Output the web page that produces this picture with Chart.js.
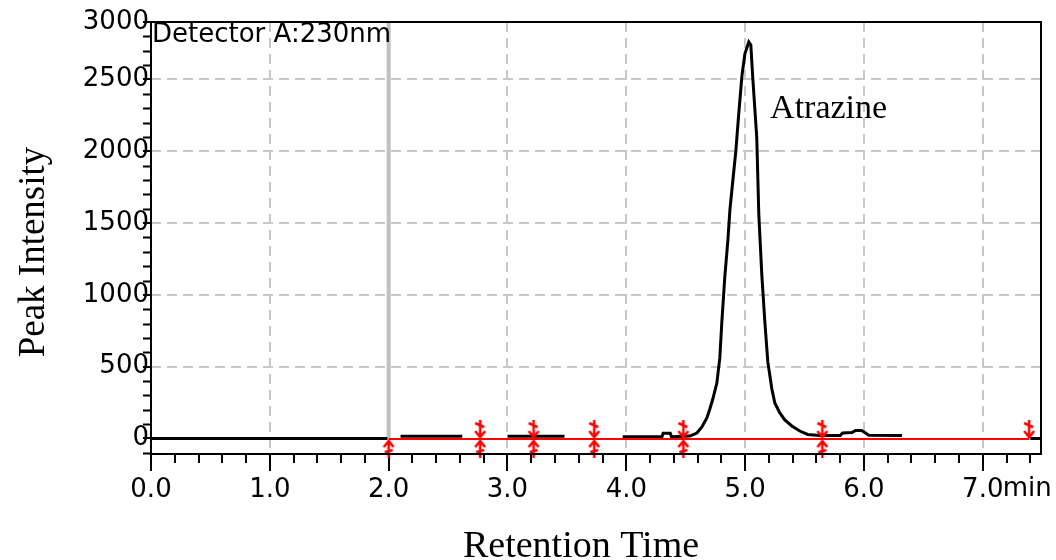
<!DOCTYPE html>
<html>
<head>
<meta charset="utf-8">
<title>Atrazine chromatogram</title>
<script src="https://cdn.jsdelivr.net/npm/chart.js@4.4.0/dist/chart.umd.min.js"></script>
<style>
    html, body { margin: 0; padding: 0; background: #fff; }
    #chart { display: block; }
</style>
</head>
<body>
<canvas id="chart" width="1056" height="560"></canvas>
<script>
// Axis ticks and range
const xTicks = [0, 1, 2, 3, 4, 5, 6, 7];
const yTicks = [0, 500, 1000, 1500, 2000, 2500, 3000];
const xMin = 0, xMax = 7.49;
const yMin = -108, yMax = 2900;

// Detector trace (min / intensity), null breaks the line
const signalTime = [0, 1.99, 2.05, 2.1, 2.62, 2.8, 3.0, 3.48, 3.7, 3.97, 4.30, 4.31, 4.37, 4.38,
    4.535, 4.594, 4.636, 4.678, 4.703, 4.728, 4.762, 4.787, 4.804, 4.829, 4.855, 4.872, 4.897,
    4.922, 4.947, 4.973, 4.998, 5.031, 5.048, 5.065, 5.098, 5.115, 5.141, 5.166, 5.191, 5.225,
    5.250, 5.292, 5.334, 5.393, 5.460, 5.527, 5.628, 5.80, 5.82, 5.90, 5.93, 5.98, 6.01, 6.04,
    6.32, 6.8, 7.40, 7.49];
const signalValue = [0, 0, null, 15, 15, null, 15, 15, null, 12, 12, 36, 36, 12,
    17, 38, 80, 143, 205, 275, 386, 561, 811, 1125, 1382, 1591, 1800,
    2002, 2267, 2524, 2678, 2761, 2740, 2503, 2093, 1563, 1132, 811, 533, 345,
    247, 178, 129, 87, 52, 28, 20, 20, 38, 42, 56, 56, 40, 22,
    20, null, 0, 0];

// Integration baseline and peak start / end marks
const baselineTime = [2.0, 7.39];
const baselineValue = [-4, -4];
const peakStarts = [2.0, 2.77, 3.22, 3.73, 4.48, 5.65];
const peakEnds = [2.77, 3.22, 3.73, 4.48, 5.65, 7.39];
const markLevel = -4;

const solventFront = 2.0;
const peakName = 'Atrazine';
const peakLabelAt = { x: 5.21, y: 2230 };

const RED = '#ff0000';
const GRID = '#c8c8c8';
const SANS = 'DejaVu Sans';

function toPoints(xs, ys) {
    return xs.map((x, i) => ({ x: x, y: ys[i] }));
}

// red arrow used for the peak marks
function arrowMark(dir) {
    const c = document.createElement('canvas');
    c.width = 18;
    c.height = 38;
    const g = c.getContext('2d');
    g.strokeStyle = RED;
    g.lineWidth = 2.5;
    g.beginPath();
    if (dir === 'down') {
        g.moveTo(9, 0); g.lineTo(9, 18);
        g.moveTo(4, 11); g.lineTo(9, 17); g.lineTo(14, 11);
        g.moveTo(4, 3); g.lineTo(13, 7);
    } else {
        g.moveTo(9, 20); g.lineTo(9, 38);
        g.moveTo(4, 27); g.lineTo(9, 21); g.lineTo(14, 27);
        g.moveTo(5, 32); g.lineTo(13, 30);
    }
    g.stroke();
    return c;
}

const decorations = {
    id: 'decorations',
    afterDraw(chart) {
        const { ctx, chartArea: a, scales: { x, y } } = chart;
        ctx.save();

        // minor ticks
        ctx.strokeStyle = '#000';
        ctx.lineWidth = 2;
        ctx.beginPath();
        for (let i = 1; i * 0.2 < xMax; i++) {
            if (i % 5 === 0) continue;
            const px = Math.round(x.getPixelForValue(i * 0.2));
            ctx.moveTo(px, a.bottom);
            ctx.lineTo(px, a.bottom + 9);
        }
        for (let v = -100; v < yMax; v += 100) {
            if (v % 500 === 0) continue;
            const py = Math.round(y.getPixelForValue(v)) + 0.5;
            ctx.moveTo(a.left - 8, py);
            ctx.lineTo(a.left, py);
        }
        ctx.stroke();

        // plot frame
        ctx.strokeRect(a.left, a.top, a.right - a.left, a.bottom - a.top);

        ctx.fillStyle = '#000';
        ctx.textBaseline = 'alphabetic';

        ctx.font = '26px "' + SANS + '"';
        ctx.textAlign = 'left';
        ctx.fillText('Detector A:230nm', a.left + 1, a.top + 20);
        ctx.fillText('min', x.getPixelForValue(7) + 20, 496);

        ctx.font = '34px "Liberation Serif"';
        ctx.fillText(peakName, x.getPixelForValue(peakLabelAt.x), y.getPixelForValue(peakLabelAt.y));

        ctx.font = '38px "Liberation Serif"';
        ctx.textAlign = 'center';
        ctx.fillText('Retention Time', 581, 557);

        ctx.font = '37px "Liberation Serif"';
        ctx.translate(44, 252);
        ctx.rotate(-Math.PI / 2);
        ctx.fillText('Peak Intensity', 0, 0);

        ctx.restore();
    }
};

const ctx = document.getElementById('chart').getContext('2d');
new Chart(ctx, {
    type: 'scatter',
    data: {
        datasets: [
            {
                label: 'Peak end',
                data: peakEnds.map(t => ({ x: t, y: markLevel })),
                pointStyle: arrowMark('down'),
                pointRadius: 6,
                clip: false,
                order: 0
            },
            {
                label: 'Peak start',
                data: peakStarts.map(t => ({ x: t, y: markLevel })),
                pointStyle: arrowMark('up'),
                pointRadius: 6,
                clip: false,
                order: 0
            },
            {
                label: 'Baseline',
                data: toPoints(baselineTime, baselineValue),
                showLine: true,
                borderColor: RED,
                borderWidth: 2,
                pointRadius: 0,
                order: 1
            },
            {
                label: 'Detector A',
                data: toPoints(signalTime, signalValue),
                showLine: true,
                spanGaps: false,
                borderColor: '#000',
                borderWidth: 3,
                pointRadius: 0,
                order: 2
            },
            {
                label: 'Solvent front',
                data: [{ x: solventFront, y: 0 }, { x: solventFront, y: yMax }],
                showLine: true,
                borderColor: '#bfbfbf',
                borderWidth: 4,
                pointRadius: 0,
                order: 3
            }
        ]
    },
    options: {
        responsive: false,
        animation: false,
        devicePixelRatio: 1,
        layout: { padding: { top: 22, right: 15, left: 0, bottom: 0 } },
        plugins: {
            legend: { display: false },
            tooltip: { enabled: false }
        },
        scales: {
            x: {
                type: 'linear',
                min: xMin,
                max: xMax,
                afterBuildTicks: scale => { scale.ticks = xTicks.map(v => ({ value: v })); },
                afterFit: scale => { scale.height = 106; },
                grid: {
                    color: c => (c.tick && c.tick.value > 0) ? GRID : 'rgba(0,0,0,0)',
                    lineWidth: 2,
                    tickColor: '#000',
                    tickLength: 17,
                    tickWidth: 2
                },
                border: { display: false, dash: [10, 6] },
                ticks: {
                    color: '#000',
                    font: { family: SANS, size: 26 },
                    padding: 4,
                    maxRotation: 0,
                    autoSkip: false,
                    callback: value => value.toFixed(1)
                }
            },
            y: {
                type: 'linear',
                min: yMin,
                max: yMax,
                afterBuildTicks: scale => { scale.ticks = yTicks.map(v => ({ value: Math.min(v, yMax) })); },
                afterFit: scale => { scale.width = 151; },
                grid: {
                    color: c => (c.tick && c.tick.value > 0 && c.tick.value < yMax) ? GRID : 'rgba(0,0,0,0)',
                    lineWidth: 2,
                    tickColor: '#000',
                    tickLength: 8,
                    tickWidth: 2
                },
                border: { display: false, dash: [10, 6] },
                ticks: {
                    color: '#000',
                    font: { family: SANS, size: 26 },
                    padding: -6,
                    autoSkip: false,
                    callback: (value, index) => String(yTicks[index])
                }
            }
        }
    },
    plugins: [decorations]
});
</script>
</body>
</html>
